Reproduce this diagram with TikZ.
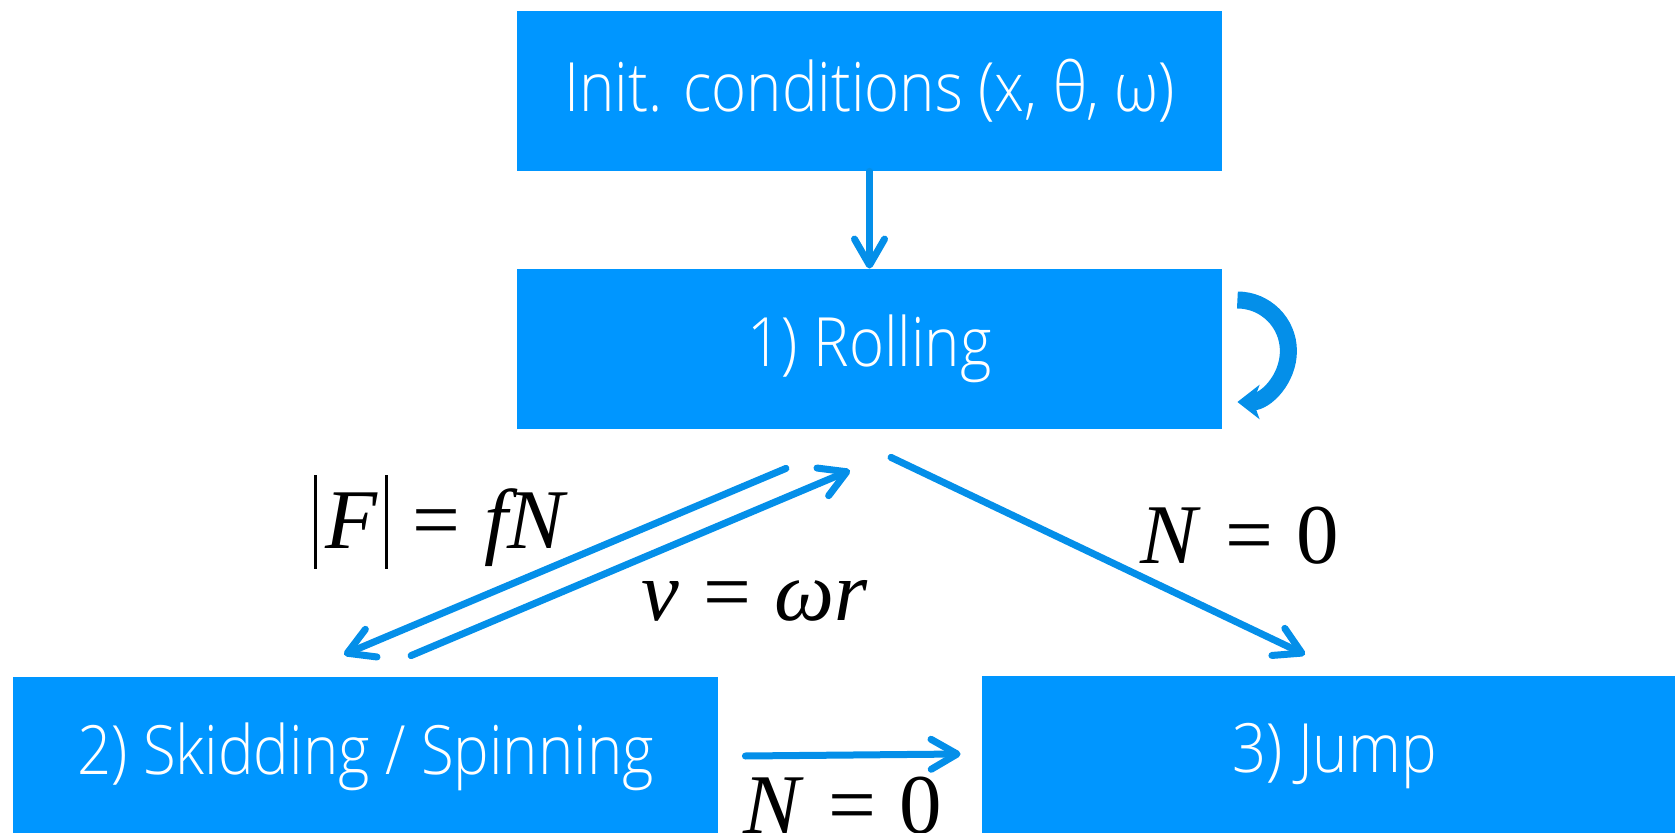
\documentclass[tikz,border=0pt]{standalone}
\usepackage{fontspec}
\setmainfont{Liberation Serif}
\newfontfamily\boxfont{Open Sans Light}[FakeStretch=0.88]
\usetikzlibrary{arrows.meta,calc}
\definecolor{boxblue}{RGB}{0,150,255}
\definecolor{arrowblue}{RGB}{4,143,233}
\newcommand{\tallbar}{\rule[-0.235em]{0.04em}{1.105em}}
\newcommand{\eqsp}{\hspace{0.28em}}
\begin{document}
\begin{tikzpicture}[x=0.5pt,y=-0.5pt,
  state/.style={fill=boxblue, draw=none, minimum width=352.5pt, minimum height=80pt,
    inner sep=0pt, text=white, font=\boxfont\fontsize{34}{40}\selectfont},
  conn/.style={draw=arrowblue, line width=3.5pt, line cap=round,
    -{Straight Barb[length=13pt,width=15pt,round]}},
  loopconn/.style={draw=arrowblue, line width=8.5pt,
    -{Stealth[length=11pt,width=17pt,inset=3pt]}},
  eq/.style={font=\fontsize{42.5}{50}\selectfont, anchor=base, inner sep=0pt}]
\clip (0,0) rectangle (1675,833);
\useasboundingbox (0,0) rectangle (1675,833);
\node[state] (init) at (869.5,91) {Init. conditions (x, θ, ω)};
\node[state] (roll) at (869.5,349) {1) Rolling};
\node[state] (skid) at (365.5,757) {2) Skidding / Spinning};
\node[state] (jump) at (1334.5,756) {3) Jump};
\draw[conn] (init) -- (roll);
\draw[conn] ($(roll.south)+(-83.5,39)$) -- ($(skid.north)+(-21.5,-22)$);
\draw[conn] ($(skid.north)+(45.5,-21)$) -- ($(roll.south)+(-19.5,41)$);
\draw[conn] ($(roll.south)+(21.5,28)$) -- ($(jump.north)+(-29.5,-21)$);
\draw[conn] ($(skid.east)+(27,-1)$) -- ($(jump.west)+(-21,-2)$);
\draw[loopconn] ($(roll.east)+(15,-49)$) arc[start angle=-90, end angle=90, radius=51];
\node[eq] (lf) at (441,549) {\tallbar\kern0.1em\textit{F}\kern0.08em\tallbar\eqsp=\eqsp\textit{fN}};
\node[eq] (lv) at (755,620) {\textit{v}\eqsp=\eqsp\textit{ωr}};
\node[eq] (ln1) at (1240,563) {\textit{N}\eqsp=\eqsp0};
\node[eq] (ln2) at (843,833) {\textit{N}\eqsp=\eqsp0};
\end{tikzpicture}
\end{document}
